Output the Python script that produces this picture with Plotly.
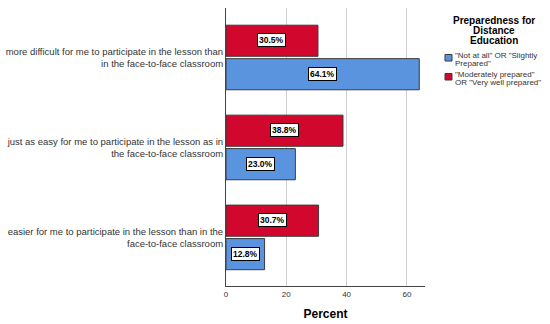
import plotly.graph_objects as go

categories = [
    "more difficult for me to participate in the lesson than<br>in the face-to-face classroom",
    "just as easy for me to participate in the lesson as in<br>the face-to-face classroom",
    "easier for me to participate in the lesson than in the<br>face-to-face classroom",
]
cat_keys = ["difficult", "same", "easier"]
not_prepared = [64.1, 23.0, 12.8]
prepared = [30.5, 38.8, 30.7]
series_names = ['"Not at all" OR "Slightly<br>Prepared"',
                '"Moderately prepared"<br>OR "Very well prepared"']
legend_title = "Preparedness for<br>Distance<br>Education"
x_ticks = [0, 20, 40, 60]

RED = "#D2072E"
BLUE = "#5A94DE"
EDGE = "#3a3a3a"
FONT = "Liberation Sans, Arial, sans-serif"

# figure geometry (pixels)
W, H = 550, 324
ML, MR, MT, MB = 226, 125, 8, 38
PW, PH = W - ML - MR, H - MT - MB


def px(xp):
    return (xp - ML) / PW


def py(yp):
    return (H - MB - yp) / PH


fig = go.Figure()
fig.add_trace(go.Bar(y=cat_keys, x=prepared, orientation="h", name=series_names[1],
                     showlegend=False,
                     marker=dict(color=RED, line=dict(color=EDGE, width=1))))
fig.add_trace(go.Bar(y=cat_keys, x=not_prepared, orientation="h", name=series_names[0],
                     showlegend=False,
                     marker=dict(color=BLUE, line=dict(color=EDGE, width=1))))

SHIFT = 17
for k, v in zip(cat_keys, prepared):
    fig.add_annotation(x=v / 2, y=k, yshift=SHIFT, text=f"<b>{v:.1f}%</b>", showarrow=False,
                       font=dict(size=8.5, color="black", family=FONT),
                       bgcolor="white", bordercolor="black", borderwidth=1, borderpad=1)
for k, v in zip(cat_keys, not_prepared):
    fig.add_annotation(x=v / 2, y=k, yshift=-SHIFT, text=f"<b>{v:.1f}%</b>", showarrow=False,
                       font=dict(size=8.5, color="black", family=FONT),
                       bgcolor="white", bordercolor="black", borderwidth=1, borderpad=1)

# legend (drawn as text + swatches to match the SPSS layout)
for line, yc in zip(legend_title.split("<br>"), [20.5, 30.5, 40.5]):
    fig.add_annotation(xref="paper", yref="paper", x=px(494), y=py(yc), text=f"<b>{line}</b>",
                       showarrow=False, xanchor="center", yanchor="middle",
                       font=dict(size=10, color="black", family=FONT))
legend_lines = [series_names[0].split("<br>"), series_names[1].split("<br>")]
legend_y = [[55.5, 63.5], [74.5, 82.5]]
legend_sq = [(54.5, 61, BLUE), (73.5, 80, RED)]
for lines, ys, (y0, y1, col) in zip(legend_lines, legend_y, legend_sq):
    for line, yc in zip(lines, ys):
        fig.add_annotation(xref="paper", yref="paper", x=px(453), y=py(yc), text=line,
                           showarrow=False, xanchor="left", yanchor="middle",
                           font=dict(size=8, color="#333333", family=FONT))
    fig.add_shape(type="rect", xref="paper", yref="paper",
                  x0=px(445), x1=px(452), y0=py(y1), y1=py(y0),
                  fillcolor=col, line=dict(color=EDGE, width=1))

fig.update_layout(
    width=W, height=H,
    margin=dict(l=ML, r=MR, t=MT, b=MB, autoexpand=False),
    paper_bgcolor="white", plot_bgcolor="white",
    barmode="group", bargap=0.256, bargroupgap=0.07,
    font=dict(family=FONT, color="#333333"),
    showlegend=False,
    xaxis=dict(
        range=[0, 66], tickvals=x_ticks, ticktext=[str(t) for t in x_ticks],
        showgrid=True, gridcolor="#d0d0d0", gridwidth=1,
        showline=True, linecolor="#444444", linewidth=1,
        ticks="", tickfont=dict(size=8, color="#333333"),
        zeroline=False, automargin=False,
        title=dict(text="<b>Percent</b>", font=dict(size=12, color="black"), standoff=12),
    ),
    yaxis=dict(
        tickvals=cat_keys, ticktext=categories, range=[2.54, -0.55],
        showline=True, linecolor="#444444", linewidth=1,
        ticks="", tickfont=dict(size=9.5, color="#333333"),
        showgrid=False, automargin=False,
    ),
)

fig.write_html("out.html", config={"displayModeBar": False},
               post_script="document.body.style.margin='0';")
